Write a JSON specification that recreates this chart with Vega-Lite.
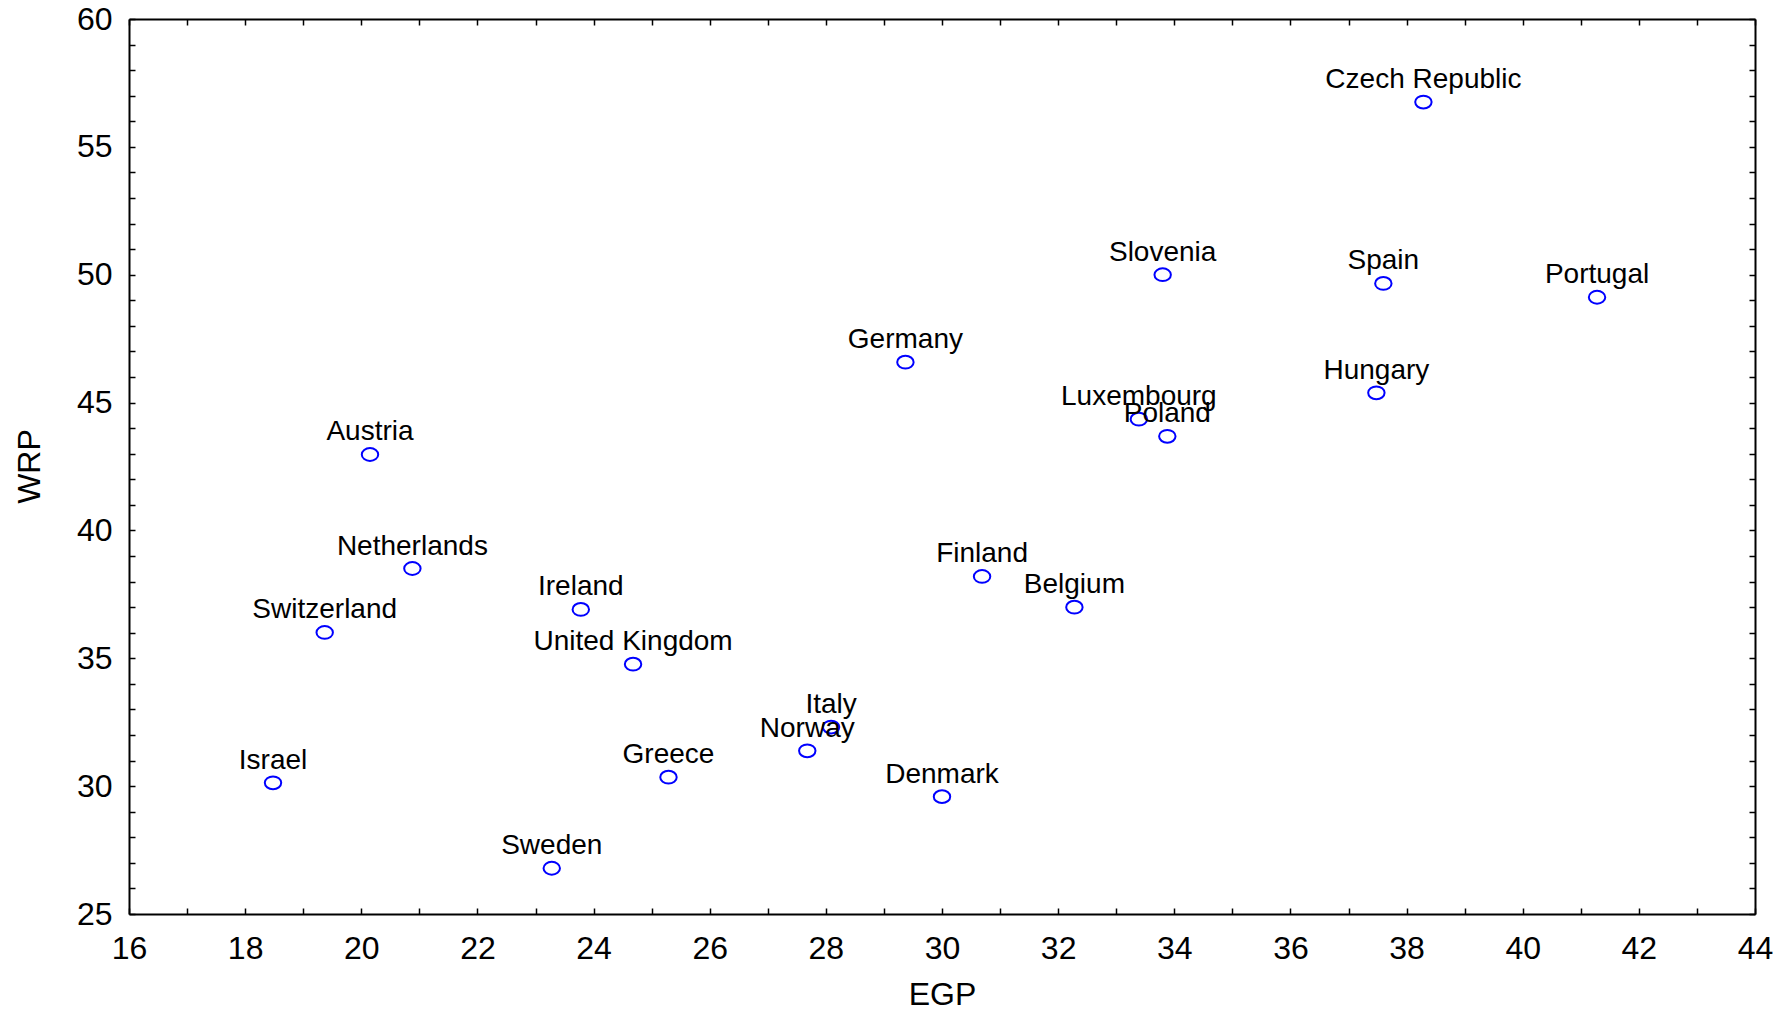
{
  "$schema": "https://vega.github.io/schema/vega-lite/v6.json",
  "autosize": "none",
  "width": 1626,
  "height": 895,
  "padding": {"left": 129, "top": 19, "right": 34, "bottom": 99},
  "background": "white",
  "config": {
    "view": {"stroke": null},
    "font": "Liberation Sans",
    "axis": {
      "grid": false,
      "domainColor": "black",
      "domainWidth": 2,
      "tickColor": "black",
      "tickWidth": 1.5,
      "tickSize": -6,
      "labelColor": "black",
      "labelFont": "Liberation Sans",
      "labelFontSize": 32,
      "titleFont": "Liberation Sans",
      "titleFontSize": 32,
      "titleFontWeight": "normal",
      "titleColor": "black"
    }
  },
  "data": {
    "values": [
      {"country": "Czech Republic", "EGP": 38.29, "WRP": 56.75},
      {"country": "Slovenia", "EGP": 33.8, "WRP": 50.0},
      {"country": "Spain", "EGP": 37.6, "WRP": 49.66},
      {"country": "Portugal", "EGP": 41.28, "WRP": 49.12},
      {"country": "Germany", "EGP": 29.37, "WRP": 46.58},
      {"country": "Hungary", "EGP": 37.48, "WRP": 45.38},
      {"country": "Luxembourg", "EGP": 33.39, "WRP": 44.35},
      {"country": "Poland", "EGP": 33.88, "WRP": 43.68},
      {"country": "Austria", "EGP": 20.15, "WRP": 42.97},
      {"country": "Netherlands", "EGP": 20.88, "WRP": 38.51},
      {"country": "Finland", "EGP": 30.69, "WRP": 38.2},
      {"country": "Ireland", "EGP": 23.78, "WRP": 36.91},
      {"country": "Belgium", "EGP": 32.28, "WRP": 37.0},
      {"country": "Switzerland", "EGP": 19.37, "WRP": 36.01},
      {"country": "United Kingdom", "EGP": 24.68, "WRP": 34.77},
      {"country": "Italy", "EGP": 28.09, "WRP": 32.31},
      {"country": "Norway", "EGP": 27.68, "WRP": 31.38},
      {"country": "Israel", "EGP": 18.48, "WRP": 30.13},
      {"country": "Greece", "EGP": 25.29, "WRP": 30.35},
      {"country": "Denmark", "EGP": 30.0, "WRP": 29.59},
      {"country": "Sweden", "EGP": 23.28, "WRP": 26.79}
    ]
  },
  "resolve": {"axis": {"x": "independent", "y": "independent"}},
  "layer": [
    {
      "mark": {
        "type": "point",
        "shape": "M -1 0 A 1 0.78 0 1 1 1 0 A 1 0.78 0 1 1 -1 0 Z",
        "size": 270,
        "filled": false,
        "stroke": "#0000FF",
        "strokeWidth": 2,
        "opacity": 1
      },
      "encoding": {
        "x": {
          "field": "EGP",
          "type": "quantitative",
          "scale": {"domain": [16, 44], "nice": false, "zero": false},
          "axis": {
            "orient": "bottom",
            "values": [16,17,18,19,20,21,22,23,24,25,26,27,28,29,30,31,32,33,34,35,36,37,38,39,40,41,42,43,44],
            "labelExpr": "datum.value % 2 == 0 ? datum.label : ''",
            "labelPadding": 25,
            "labelFlush": false,
            "labelOverlap": false,
            "title": "EGP",
            "titleX": 813,
            "titleY": 80,
            "titleAlign": "center",
            "titleBaseline": "middle",
            "titleAngle": 0
          }
        },
        "y": {
          "field": "WRP",
          "type": "quantitative",
          "scale": {"domain": [25, 60], "nice": false, "zero": false},
          "axis": {
            "orient": "left",
            "values": [25,26,27,28,29,30,31,32,33,34,35,36,37,38,39,40,41,42,43,44,45,46,47,48,49,50,51,52,53,54,55,56,57,58,59,60],
            "labelExpr": "datum.value % 5 == 0 ? datum.label : ''",
            "labelPadding": 23,
            "labelFlush": false,
            "labelOverlap": false,
            "labelBaseline": "middle",
            "title": "WRP",
            "titleX": -100,
            "titleY": 447,
            "titleAlign": "center",
            "titleBaseline": "middle",
            "titleAngle": 270
          }
        }
      }
    },
    {
      "mark": {
        "type": "text",
        "font": "Liberation Sans",
        "fontSize": 28,
        "align": "center",
        "baseline": "alphabetic",
        "dy": -14,
        "color": "black"
      },
      "encoding": {
        "x": {
          "field": "EGP",
          "type": "quantitative",
          "axis": {
            "orient": "top",
            "values": [16,17,18,19,20,21,22,23,24,25,26,27,28,29,30,31,32,33,34,35,36,37,38,39,40,41,42,43,44],
            "labels": false,
            "title": null
          }
        },
        "y": {
          "field": "WRP",
          "type": "quantitative",
          "axis": {
            "orient": "right",
            "values": [25,26,27,28,29,30,31,32,33,34,35,36,37,38,39,40,41,42,43,44,45,46,47,48,49,50,51,52,53,54,55,56,57,58,59,60],
            "labels": false,
            "title": null
          }
        },
        "text": {"field": "country", "type": "nominal"}
      }
    }
  ]
}
